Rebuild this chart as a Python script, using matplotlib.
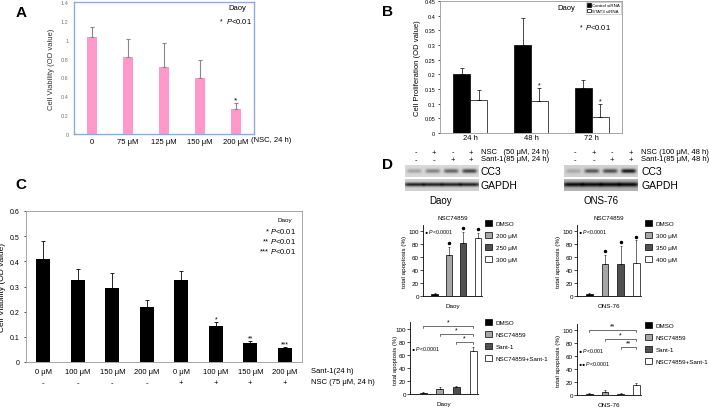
import numpy as np
import matplotlib
matplotlib.use("Agg")
import matplotlib.pyplot as plt
from matplotlib.patches import Patch

W, H = 709, 410
plt.rcParams['font.family'] = ['Liberation Sans', 'DejaVu Sans']
plt.rcParams['mathtext.fontset'] = 'custom'
plt.rcParams['mathtext.rm'] = 'Liberation Sans'
plt.rcParams['mathtext.it'] = 'Liberation Sans:italic'

# ---------------- data ----------------
# A
a_cats = ["0", "75 \u03bcM", "125 \u03bcM", "150 \u03bcM", "200 \u03bcM"]
a_vals = [1.03, 0.82, 0.71, 0.59, 0.26]
a_err = [0.11, 0.19, 0.25, 0.19, 0.07]
# B
b_cats = ["24 h", "48 h", "72 h"]
b_ctrl = [0.200, 0.300, 0.155]
b_ctrl_err = [0.022, 0.093, 0.025]
b_stat3 = [0.113, 0.110, 0.056]
b_stat3_err = [0.032, 0.045, 0.044]
# C
c_sant = ["0 \u03bcM", "100 \u03bcM", "150 \u03bcM", "200 \u03bcM",
          "0 \u03bcM", "100 \u03bcM", "150 \u03bcM", "200 \u03bcM"]
c_nsc = ["-", "-", "-", "-", "+", "+", "+", "+"]
c_vals = [0.41, 0.325, 0.295, 0.218, 0.327, 0.145, 0.075, 0.057]
c_err = [0.07, 0.043, 0.057, 0.03, 0.033, 0.015, 0.01, 0.004]
c_stars = ["", "", "", "", "", "*", "**", "***"]
# D blots (relative band intensity per lane)
blot_nsc = ["-", "+", "-", "+"]
blot_sant = ["-", "-", "+", "+"]
daoy_cc3 = [0.25, 0.4, 0.55, 0.7]
daoy_gapdh = [0.85, 0.85, 0.85, 0.85]
ons_cc3 = [0.2, 0.6, 0.65, 0.9]
ons_gapdh = [0.95, 0.95, 0.95, 0.95]
# D apoptosis
d1_labels = ["DMSO", "200 \u03bcM", "250 \u03bcM", "300 \u03bcM"]
d1_vals = [3, 63, 82, 90]
d1_err = [2, 13, 17, 8]
d2_labels = ["DMSO", "300 \u03bcM", "350 \u03bcM", "400 \u03bcM"]
d2_vals = [3, 49, 49, 51]
d2_err = [2, 14, 28, 35]
d3_labels = ["DMSO", "NSC74859", "Sant-1", "NSC74859+Sant-1"]
d3_vals = [2, 8, 10, 66]
d3_err = [1, 2, 2, 6]
d3_brackets = [(0, 104, "*"), (1, 92, "*"), (2, 79, "*")]
d4_vals = [2, 5, 2, 16]
d4_err = [1, 3, 1, 2]
d4_brackets = [(0, 100, "**"), (1, 87, "*"), (2, 75, "**")]
d_colors = ["black", "#a6a6a6", "#505050", "white"]


def box(x0, y0, x1, y1):
    return [x0 / W, 1 - y1 / H, (x1 - x0) / W, (y1 - y0) / H]


def ftext(x, y, s, **kw):
    kw.setdefault("va", "center")
    fig.text(x / W, 1 - y / H, s, **kw)


fig = plt.figure(figsize=(W / 100, H / 100), dpi=100)

# ---------------- A ----------------
ax = fig.add_axes(box(74, 3, 254, 135))
xa = np.arange(len(a_vals))
ax.bar(xa, a_vals, width=0.3, color="#ff99cc")
ax.errorbar(xa, a_vals, yerr=[np.zeros(len(a_err)), a_err], fmt="none",
            ecolor="#888888", elinewidth=0.8, capsize=1.5, capthick=0.8)
ax.set_xlim(-0.5, 4.5)
ax.set_ylim(0, 1.4)
ax.set_yticks(np.arange(0, 1.41, 0.2))
ax.set_yticklabels(["0", "0.2", "0.4", "0.6", "0.8", "1", "1.2", "1.4"])
ax.tick_params(axis="y", length=0, labelsize=4, labelcolor="#777777", pad=4)
ax.set_xticks(xa)
ax.set_xticklabels(a_cats)
ax.tick_params(axis="x", length=0, labelsize=5.5, pad=3)
for s in ax.spines.values():
    s.set_color("#8faadc")
    s.set_linewidth(1)
ax.set_ylabel("Cell Viability (OD value)", fontsize=5.5, color="#333333", labelpad=4)
ax.text(xa[4], a_vals[4] + a_err[4] + 0.02, "*", ha="center", fontsize=6)
ftext(251, 141, "(NSC, 24 h)", fontsize=5.5)
ftext(237, 9, "Daoy", fontsize=5.5, ha="center")
ftext(220, 22, "*", fontsize=5)
ftext(226, 22, "$\\it{P}$<0.01", fontsize=5.5)
ftext(16, 13, "A", fontsize=11, fontweight="bold")

# ---------------- B ----------------
ax = fig.add_axes(box(440, 2, 622, 134))
xb = np.arange(len(b_cats)) + 0.5
bw = 0.28
ax.bar(xb - bw / 2, b_ctrl, width=bw, color="black", edgecolor="black", linewidth=0.5,
       label="Control siRNA")
ax.bar(xb + bw / 2, b_stat3, width=bw, color="white", edgecolor="black", linewidth=0.5,
       label="STAT3 siRNA")
ax.errorbar(xb - bw / 2, b_ctrl, yerr=[np.zeros(3), b_ctrl_err], fmt="none",
            ecolor="black", elinewidth=0.5, capsize=1.5, capthick=0.5)
ax.errorbar(xb + bw / 2, b_stat3, yerr=[np.zeros(3), b_stat3_err], fmt="none",
            ecolor="black", elinewidth=0.5, capsize=1.5, capthick=0.5)
for i in (1, 2):
    ax.text(xb[i] + bw / 2, b_stat3[i] + b_stat3_err[i] + 0.003, "*",
            ha="center", fontsize=5)
ax.set_xlim(0, 3)
ax.set_ylim(0, 0.45)
ax.set_yticks(np.arange(0, 0.451, 0.05))
ax.set_yticklabels(["0", "0.05", "0.1", "0.15", "0.2", "0.25", "0.3", "0.35",
                    "0.4", "0.45"])
ax.tick_params(axis="y", length=1.5, width=0.5, labelsize=4, pad=2)
ax.set_xticks(xb)
ax.set_xticklabels(b_cats, fontsize=5.5)
ax.tick_params(axis="x", length=0, pad=1)
for s in ax.spines.values():
    s.set_color("#999999")
    s.set_linewidth(0.6)
ax.set_ylabel("Cell Proliferation (OD value)", fontsize=5.5, labelpad=2)
leg = ax.legend(loc="upper right", fontsize=3.2, frameon=True, fancybox=False,
                handlelength=0.8, handleheight=0.8, handletextpad=0.3,
                borderpad=0.3, labelspacing=0.3, borderaxespad=0.2)
leg.get_frame().set_edgecolor("#999999")
leg.get_frame().set_linewidth(0.4)
ftext(566, 8, "Daoy", fontsize=5.5, ha="center")
ftext(580, 28, "*", fontsize=5)
ftext(585, 28, "$\\it{P}$<0.01", fontsize=5.5)
ftext(382, 12, "B", fontsize=11, fontweight="bold")

# ---------------- C ----------------
ax = fig.add_axes(box(26, 212, 302, 363))
xc = np.arange(len(c_vals))
ax.bar(xc, c_vals, width=0.4, color="black")
ax.errorbar(xc, c_vals, yerr=[np.zeros(len(c_err)), c_err], fmt="none",
            ecolor="black", elinewidth=0.6, capsize=1.5, capthick=0.6)
for i, s in enumerate(c_stars):
    if s:
        ax.text(xc[i], c_vals[i] + c_err[i] + 0.004, s, ha="center", fontsize=5)
ax.set_xlim(-0.5, 7.5)
ax.set_ylim(0, 0.6)
ax.set_yticks(np.arange(0, 0.61, 0.1))
ax.set_yticklabels(["0", "0.1", "0.2", "0.3", "0.4", "0.5", "0.6"])
ax.tick_params(axis="y", length=1.5, width=0.5, labelsize=5, pad=3)
ax.set_xticks([])
for s in ax.spines.values():
    s.set_color("#999999")
    s.set_linewidth(0.6)
ax.set_ylabel("Cell Viability (OD value)", fontsize=6, labelpad=3)
trans = ax.get_xaxis_transform()
for i in xc:
    ax.text(i, -0.06, c_sant[i], transform=trans, ha="center", va="center", fontsize=5.5)
    ax.text(i, -0.135, c_nsc[i], transform=trans, ha="center", va="center", fontsize=5.5)
ftext(311, 372, "Sant-1(24 h)", fontsize=5.5)
ftext(311, 383, "NSC (75 \u03bcM, 24 h)", fontsize=5.5)
ftext(285, 221, "Daoy", fontsize=4.5, ha="center")
ftext(296, 232, "* $\\it{P}$<0.01", fontsize=5.5, ha="right")
ftext(296, 242, "** $\\it{P}$<0.01", fontsize=5.5, ha="right")
ftext(296, 252, "*** $\\it{P}$<0.01", fontsize=5.5, ha="right")
ftext(15, 185, "C", fontsize=11, fontweight="bold")

# ---------------- D blots ----------------
ftext(382, 165, "D", fontsize=11, fontweight="bold")


def blot(x0, x1, y0, y1, intens, bg, width_frac=0.8, thick=0.35):
    bax = fig.add_axes(box(x0, y0, x1, y1))
    nx, ny = 200, 40
    xx = np.linspace(0, len(intens), nx)
    yy = np.linspace(-1, 1, ny)
    img = np.full((ny, nx), bg)
    for k, v in enumerate(intens):
        prof_x = np.exp(-((xx - (k + 0.5)) / (0.5 * width_frac)) ** 6)
        prof_y = np.exp(-(yy / thick) ** 2)
        img = img - v * bg * np.outer(prof_y, prof_x)
    bax.imshow(img, cmap="gray", vmin=0, vmax=1, aspect="auto",
               interpolation="bilinear")
    bax.axis("off")


blot(405, 478, 166, 178, daoy_cc3, 0.85)
blot(405, 478, 180, 192, daoy_gapdh, 0.82, width_frac=1.1, thick=0.3)
blot(564, 638, 166, 178, ons_cc3, 0.82)
blot(564, 638, 180, 192, ons_gapdh, 0.7, width_frac=1.1, thick=0.35)

for lx0, lx1, top in [(405, 478, "NSC   (50 \u03bcM, 24 h)"),
                      (564, 638, "NSC (100 \u03bcM, 48 h)")]:
    step = (lx1 - lx0) / 4
    for k in range(4):
        cx = lx0 + step * (k + 0.6)
        ftext(cx, 153, blot_nsc[k], fontsize=5.5, ha="center")
        ftext(cx, 161, blot_sant[k], fontsize=5.5, ha="center")
    sant = "Sant-1(85 \u03bcM, 24 h)" if lx0 < 500 else "Sant-1(85 \u03bcM, 48 h)"
    ftext(lx1 + 3, 152, top, fontsize=5.5)
    ftext(lx1 + 3, 160, sant, fontsize=5.5)
    ftext(lx1 + 3, 172, "CC3", fontsize=7.5)
    ftext(lx1 + 3, 186, "GAPDH", fontsize=7.5)
ftext(441, 201, "Daoy", fontsize=7, ha="center")
ftext(601, 201, "ONS-76", fontsize=7, ha="center")


# ---------------- D apoptosis panels ----------------
def apo(bx, vals, errs, labels, xlabel, title=None, stars=False,
        brackets=(), notes=(), leg_xy=(0, 0), ylab=True):
    ax = fig.add_axes(box(*bx))
    x = np.arange(len(vals))
    ax.bar(x, vals, width=0.42, color=d_colors, edgecolor="black", linewidth=0.5)
    ax.errorbar(x, vals, yerr=[np.zeros(len(errs)), errs], fmt="none",
                ecolor="black", elinewidth=0.4, capsize=1, capthick=0.4)
    ax.set_xlim(-0.8, 3.3)
    ax.set_ylim(0, 110)
    ax.set_yticks(np.arange(0, 101, 20))
    ax.tick_params(axis="y", length=2, width=0.5, labelsize=4.5, pad=1)
    ax.set_xticks([])
    ax.spines[["top", "right"]].set_visible(False)
    for s in ("left", "bottom"):
        ax.spines[s].set_linewidth(0.6)
    ax.set_xlabel(xlabel, fontsize=4.5, labelpad=5)
    if ylab:
        ax.set_ylabel("total apoptosis (%)", fontsize=4.5, labelpad=1)
    if title:
        ax.set_title(title, fontsize=4.5, pad=4)
    if stars:
        for i in range(1, 4):
            ax.plot(x[i], vals[i] + errs[i] + 6, marker="o", ms=1.5, color="black")
    for i, yv, s in brackets:
        ax.plot([x[i], x[i], x[3], x[3]], [yv - 3, yv, yv, yv - 3], color="black", lw=0.4)
        ax.text((x[i] + x[3]) / 2, yv + 1, s, ha="center", va="bottom", fontsize=5)
    for yv, s in notes:
        ax.text(-0.75, yv, s, fontsize=3.8, va="center", ha="left")
    handles = [Patch(facecolor=c, edgecolor="black", linewidth=0.5) for c in d_colors]
    fig.legend(handles, labels, loc="upper left",
               bbox_to_anchor=(leg_xy[0] / W, 1 - leg_xy[1] / H),
               fontsize=4.5, frameon=False, handlelength=1.1, handleheight=1.1,
               handletextpad=0.6, labelspacing=0.95, borderpad=0, borderaxespad=0)
    return ax


apo((423, 226, 482, 297), d1_vals, d1_err, d1_labels, "Daoy", title="NSC74859",
    stars=True, notes=[(100, "\u25cf $\\it{P}$<0.0001")], leg_xy=(485, 221))
apo((577, 226, 641, 297), d2_vals, d2_err, d2_labels, "ONS-76", title="NSC74859",
    stars=True, notes=[(100, "\u25cf $\\it{P}$<0.0001")], leg_xy=(645, 221))
apo((410, 323, 478, 395), d3_vals, d3_err, d3_labels, "Daoy",
    brackets=d3_brackets, notes=[(70, "\u25cf $\\it{P}$<0.0001")],
    leg_xy=(485, 320), ylab=False)
apo((577, 325, 641, 396), d4_vals, d4_err, d3_labels, "ONS-76",
    brackets=d4_brackets,
    notes=[(70, "\u25cf $\\it{P}$<0.001"), (50, "\u25cf\u25cf $\\it{P}$<0.0001")],
    leg_xy=(645, 323))
ftext(395, 360, "total apoptosis (%)", fontsize=4.2, rotation=90, ha="center")

fig.savefig("out.png", dpi=100)
